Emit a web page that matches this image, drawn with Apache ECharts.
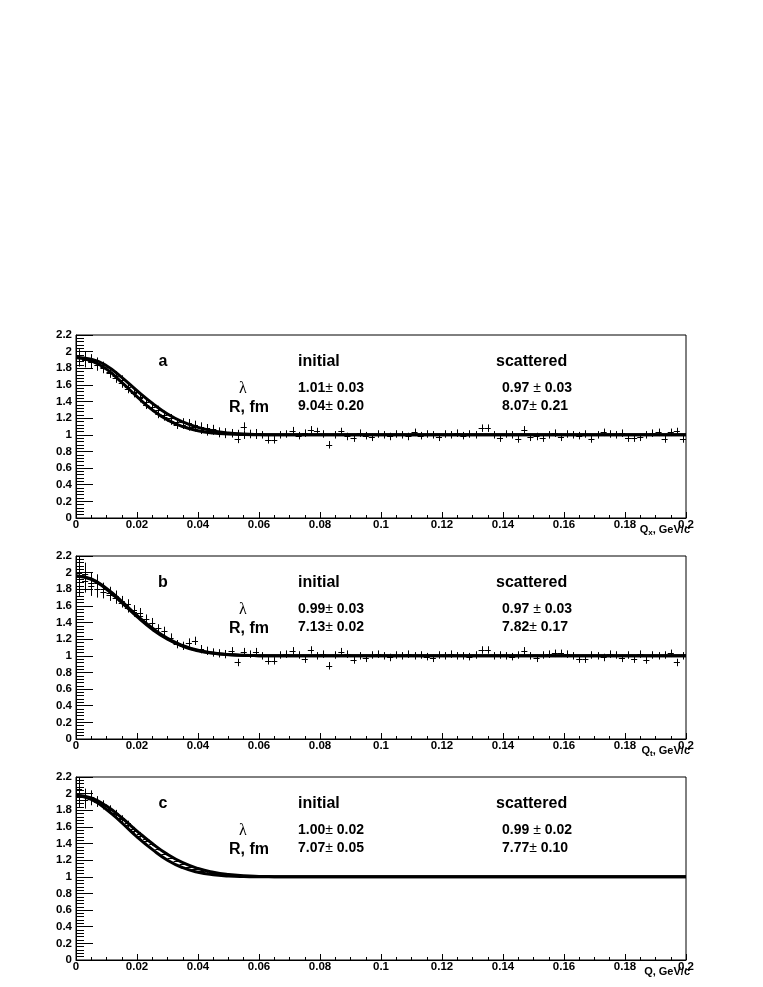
<!DOCTYPE html>
<html lang="en">
<head>
<meta charset="UTF-8">
<title>correlation functions</title>
<script src="https://cdn.jsdelivr.net/npm/echarts@6/dist/echarts.min.js"></script>
<style>
  body{margin:0;background:#fff;}
  #main{width:763px;height:987px;}
</style>
</head>
<body>
<div id="main"></div>
<script>
// bin centres (bin width 0.002 GeV/c)
var qCenters = [0.001,0.003,0.005,0.007,0.009,0.011,0.013,0.015,0.017,0.019,
  0.021,0.023,0.025,0.027,0.029,0.031,0.033,0.035,0.037,0.039,
  0.041,0.043,0.045,0.047,0.049,0.051,0.053,0.055,0.057,0.059,
  0.061,0.063,0.065,0.067,0.069,0.071,0.073,0.075,0.077,0.079,
  0.081,0.083,0.085,0.087,0.089,0.091,0.093,0.095,0.097,0.099,
  0.101,0.103,0.105,0.107,0.109,0.111,0.113,0.115,0.117,0.119,
  0.121,0.123,0.125,0.127,0.129,0.131,0.133,0.135,0.137,0.139,
  0.141,0.143,0.145,0.147,0.149,0.151,0.153,0.155,0.157,0.159,
  0.161,0.163,0.165,0.167,0.169,0.171,0.173,0.175,0.177,0.179,
  0.181,0.183,0.185,0.187,0.189,0.191,0.193,0.195,0.197,0.199];
var halfBin = 0.001;

// panel a: points
var aPts = [1.92,1.91,1.89,1.86,1.82,1.76,1.71,1.66,1.55,1.50,
  1.44,1.36,1.33,1.25,1.22,1.17,1.12,1.15,1.10,1.09,
  1.06,1.04,1.07,1.02,1.01,1.02,0.95,1.10,1.01,1.02,
  1.00,0.94,0.94,1.00,1.01,1.05,0.99,1.02,1.06,1.04,
  1.01,0.88,1.00,1.04,0.98,0.96,1.02,0.99,0.97,1.01,
  1.00,0.98,1.01,1.00,0.98,1.03,0.99,1.01,1.00,0.97,
  1.01,1.00,1.02,0.99,1.01,1.00,1.08,1.08,1.00,0.96,
  1.01,1.00,0.95,1.06,0.97,0.98,0.96,1.00,1.02,0.97,
  1.01,1.00,0.99,1.01,0.95,1.00,1.03,1.01,1.00,1.02,
  0.96,0.96,0.97,1.00,1.02,1.03,0.95,1.03,1.04,0.95];
var aErr = [0.10,0.09,0.08,0.07,0.06,0.055,0.055,0.055,0.05,0.05,
  0.05,0.05,0.05,0.05,0.05,0.05,0.05,0.05,0.05,0.05,
  0.05,0.05,0.05,0.05,0.05,0.05,0.05,0.05,0.05,0.05];
var aErrFlat = 0.045;
var aPts2 = [1.93,1.90,1.88,1.84,1.80,1.74,1.68,1.62,1.58,1.52,
  1.46,1.40,1.34,1.30,1.24,1.20,1.15,1.12,1.14,1.12,
  1.10,1.08,1.05,1.04,1.03,1.02,1.01,1.00,1.01,1.00];

// panel b: points
var bPts = [2.00,1.90,1.88,1.88,1.80,1.76,1.72,1.66,1.62,1.55,
  1.52,1.44,1.40,1.33,1.30,1.22,1.14,1.12,1.16,1.18,
  1.08,1.06,1.04,1.03,1.02,1.06,0.92,1.05,1.02,1.05,
  1.00,0.94,0.94,1.01,1.02,1.06,1.01,0.96,1.07,1.00,
  1.02,0.88,1.01,1.05,1.02,0.95,1.00,0.97,1.01,1.02,
  1.00,0.98,1.01,1.00,1.02,1.00,1.01,0.99,0.97,1.01,
  1.00,1.02,1.00,1.00,0.99,1.01,1.07,1.07,1.00,1.01,
  1.00,0.99,1.01,1.06,1.00,0.97,1.01,1.02,1.03,1.03,
  1.02,1.00,0.96,0.96,1.01,1.00,0.98,1.02,1.01,0.97,
  1.01,0.96,1.02,0.95,1.01,1.00,1.01,1.03,0.92,1.00];
var bErr = [0.20,0.14,0.12,0.10,0.08,0.07,0.065,0.06,0.06,0.06,
  0.055,0.055,0.055,0.05,0.05,0.05,0.05,0.05,0.05,0.05,
  0.05,0.05,0.05,0.05,0.05];
var bErrFlat = 0.045;
var bPts2 = [1.92,1.98,1.84,1.80,1.77,1.73,1.69,1.64,1.58,1.53,1.48,1.44];

// panel c: points
var cPts = [1.98,1.96,1.94,1.90,1.86,1.82,1.77,1.71,1.65,1.58,
  1.52,1.45,1.39,1.33,1.28,1.23,1.19,1.15,1.12,1.09,
  1.07,1.05,1.04,1.03,1.02,1.013,1.009,1.006,1.004,1.002,
  1,1,1,1,1,1,1,1,1,1, 1,1,1,1,1,1,1,1,1,1,
  1,1,1,1,1,1,1,1,1,1, 1,1,1,1,1,1,1,1,1,1,
  1,1,1,1,1,1,1,1,1,1, 1,1,1,1,1,1,1,1,1,1,
  1,1,1,1,1,1,1,1,1,1];
var cErr = [0.14,0.10,0.08,0.06,0.05,0.04,0.035,0.03,0.025,0.02,
  0.02,0.015,0.015,0.012,0.01,0.01,0.01,0.008,0.008,0.008];
var cErrFlat = 0.005;
var cPts2 = [2.06,1.92,1.96,1.91,1.87,1.80,1.75,1.69,1.62,1.55,1.49,1.43];

// fit curves
var curveQ = [0,0.005,0.01,0.015,0.02,0.025,0.03,0.035,0.04,0.045,0.05,0.055,0.06,0.065,0.07,0.2];
var aInit = [1.93,1.89,1.79,1.63,1.46,1.30,1.18,1.10,1.05,1.022,1.009,1.003,1.001,1.0,1.0,1.0];
var aScat = [1.93,1.91,1.83,1.69,1.53,1.38,1.25,1.155,1.09,1.047,1.022,1.01,1.004,1.001,1.0,1.0];
var bInit = [1.96,1.92,1.80,1.64,1.47,1.32,1.20,1.115,1.06,1.03,1.013,1.005,1.002,1.0,1.0,1.0];
var bScat = [1.96,1.925,1.81,1.655,1.485,1.335,1.21,1.125,1.066,1.033,1.015,1.006,1.002,1.0,1.0,1.0];
var cInit = [1.98,1.95,1.85,1.71,1.55,1.40,1.27,1.17,1.10,1.055,1.027,1.012,1.005,1.002,1.0,1.0];
var cScat = [1.98,1.93,1.81,1.65,1.48,1.33,1.20,1.11,1.055,1.025,1.011,1.004,1.001,1.0,1.0,1.0];

// fit results text
var panelTags = ['a', 'b', 'c'];
var initLambda = ['1.01', '0.99', '1.00'];
var initLambdaErr = ['0.03', '0.03', '0.02'];
var initR = ['9.04', '7.13', '7.07'];
var initRErr = ['0.20', '0.02', '0.05'];
var scatLambda = ['0.97', '0.97', '0.99'];
var scatLambdaErr = ['0.03', '0.03', '0.02'];
var scatR = ['8.07', '7.82', '7.77'];
var scatRErr = ['0.21', '0.17', '0.10'];
var axisSub = ['x', 't', ''];

var myChart = echarts.init(document.getElementById('main'));

var gridTops = [335, 556, 777];
var gridH = 183;
var FONT = '"Liberation Sans", Arial, Helvetica, sans-serif';

function pointSeries(idx, pts, errs, errFlat) {
  var data = [];
  for (var i = 0; i < pts.length; i++) {
    data.push([qCenters[i], pts[i], i < errs.length ? errs[i] : errFlat]);
  }
  return {
    type: 'custom', xAxisIndex: idx, yAxisIndex: idx, z: 2, clip: true,
    data: data,
    renderItem: function (params, api) {
      var x = api.value(0), v = api.value(1), e = api.value(2);
      var l = api.coord([x - halfBin, v]), r = api.coord([x + halfBin, v]);
      var t = api.coord([x, v + e]), b = api.coord([x, v - e]);
      return {type: 'group', children: [
        {type: 'line', shape: {x1: l[0], y1: Math.round(l[1]) + 0.5, x2: r[0], y2: Math.round(r[1]) + 0.5}, style: {stroke: '#000', lineWidth: 1}},
        {type: 'line', shape: {x1: Math.round(t[0]) + 0.5, y1: t[1], x2: Math.round(b[0]) + 0.5, y2: b[1]}, style: {stroke: '#000', lineWidth: 1}}
      ]};
    }
  };
}

function curveSeries(idx, ys) {
  return {
    type: 'line', xAxisIndex: idx, yAxisIndex: idx, z: 3,
    data: curveQ.map(function (q, i) { return [q, ys[i]]; }),
    showSymbol: false, smooth: true,
    lineStyle: {color: '#000', width: 3}
  };
}

function valText(v, e, gap) {
  return '{v|' + v + (gap ? ' ' : '') + '}{pm|±}{v| ' + e + '}';
}

var grids = [], xAxes = [], yAxes = [], series = [], graphics = [];
var ptsList = [[aPts, aErr, aErrFlat, aPts2], [bPts, bErr, bErrFlat, bPts2], [cPts, cErr, cErrFlat, cPts2]];
var curveList = [[aInit, aScat], [bInit, bScat], [cInit, cScat]];
var bold16 = 'bold 16px ' + FONT;

for (var p = 0; p < 3; p++) {
  var gTop = gridTops[p];
  grids.push({left: 76, top: gTop, width: 610, height: gridH, show: true, borderColor: '#000', borderWidth: 1});
  xAxes.push({
    type: 'value', gridIndex: p, min: 0, max: 0.2, interval: 0.02,
    axisLine: {onZero: false, lineStyle: {color: '#000', width: 1}},
    axisTick: {inside: true, length: 6, lineStyle: {color: '#000'}},
    minorTick: {show: true, splitNumber: 4, length: 3, lineStyle: {color: '#000'}},
    splitLine: {show: false},
    axisLabel: {color: '#000', fontFamily: FONT, fontWeight: 'bold', fontSize: 11.5, margin: 1}
  });
  yAxes.push({
    type: 'value', gridIndex: p, min: 0, max: 2.2, interval: 0.2,
    axisLine: {onZero: false, lineStyle: {color: '#000', width: 1}},
    axisTick: {inside: true, length: 17, lineStyle: {color: '#000'}},
    minorTick: {show: true, splitNumber: 5, length: 8, lineStyle: {color: '#000'}},
    splitLine: {show: false},
    axisLabel: {color: '#000', fontFamily: FONT, fontWeight: 'bold', fontSize: 11.5, margin: 4}
  });
  var pl = ptsList[p];
  series.push(pointSeries(p, pl[0], pl[1], pl[2]));
  series.push(pointSeries(p, pl[3], pl[1], pl[2]));
  series.push(curveSeries(p, curveList[p][0]));
  series.push(curveSeries(p, curveList[p][1]));

  var dy = gTop - gridTops[0];
  graphics.push({type: 'text', style: {text: panelTags[p], x: 163, y: 362 + dy, font: bold16, fill: '#000', align: 'center', verticalAlign: 'middle'}});
  graphics.push({type: 'text', style: {text: 'initial', x: 298, y: 362 + dy, font: bold16, fill: '#000', align: 'left', verticalAlign: 'middle'}});
  graphics.push({type: 'text', style: {text: 'scattered', x: 496, y: 362 + dy, font: bold16, fill: '#000', align: 'left', verticalAlign: 'middle'}});
  graphics.push({type: 'text', style: {text: 'λ', x: 243, y: 389 + dy, font: '16px "Liberation Serif", serif', fill: '#000', align: 'center', verticalAlign: 'middle'}});
  graphics.push({type: 'text', style: {text: 'R, fm', x: 229, y: 408 + dy, font: bold16, fill: '#000', align: 'left', verticalAlign: 'middle'}});

  var vals = [
    [initLambda[p], initLambdaErr[p], false, 298, 388],
    [initR[p], initRErr[p], false, 298, 406],
    [scatLambda[p], scatLambdaErr[p], true, 502, 388],
    [scatR[p], scatRErr[p], false, 502, 406]
  ];
  for (var k = 0; k < vals.length; k++) {
    graphics.push({type: 'text', style: {
      text: valText(vals[k][0], vals[k][1], vals[k][2]), x: vals[k][3], y: vals[k][4] + dy,
      rich: {
        v: {fontFamily: FONT, fontWeight: 'bold', fontSize: 14, color: '#000'},
        pm: {fontFamily: FONT, fontWeight: 'normal', fontSize: 14, color: '#000'}
      },
      align: 'left', verticalAlign: 'middle'
    }});
  }

  // axis title
  var nameText = axisSub[p] ? '{m|Q}{s|' + axisSub[p] + '}{m|, GeV/c}' : '{m|Q, GeV/c}';
  graphics.push({type: 'text', z: -1, style: {
    text: nameText, x: 690, y: gTop + gridH + 12,
    rich: {
      m: {fontFamily: FONT, fontWeight: 'bold', fontSize: 11, color: '#000', lineHeight: 14},
      s: {fontFamily: FONT, fontWeight: 'bold', fontSize: 8, color: '#000', verticalAlign: 'bottom'}
    },
    align: 'right', verticalAlign: 'middle'
  }});
}

var option = {
  animation: false,
  backgroundColor: '#fff',
  grid: grids,
  xAxis: xAxes,
  yAxis: yAxes,
  series: series,
  graphic: graphics
};
myChart.setOption(option);
</script>
</body>
</html>
